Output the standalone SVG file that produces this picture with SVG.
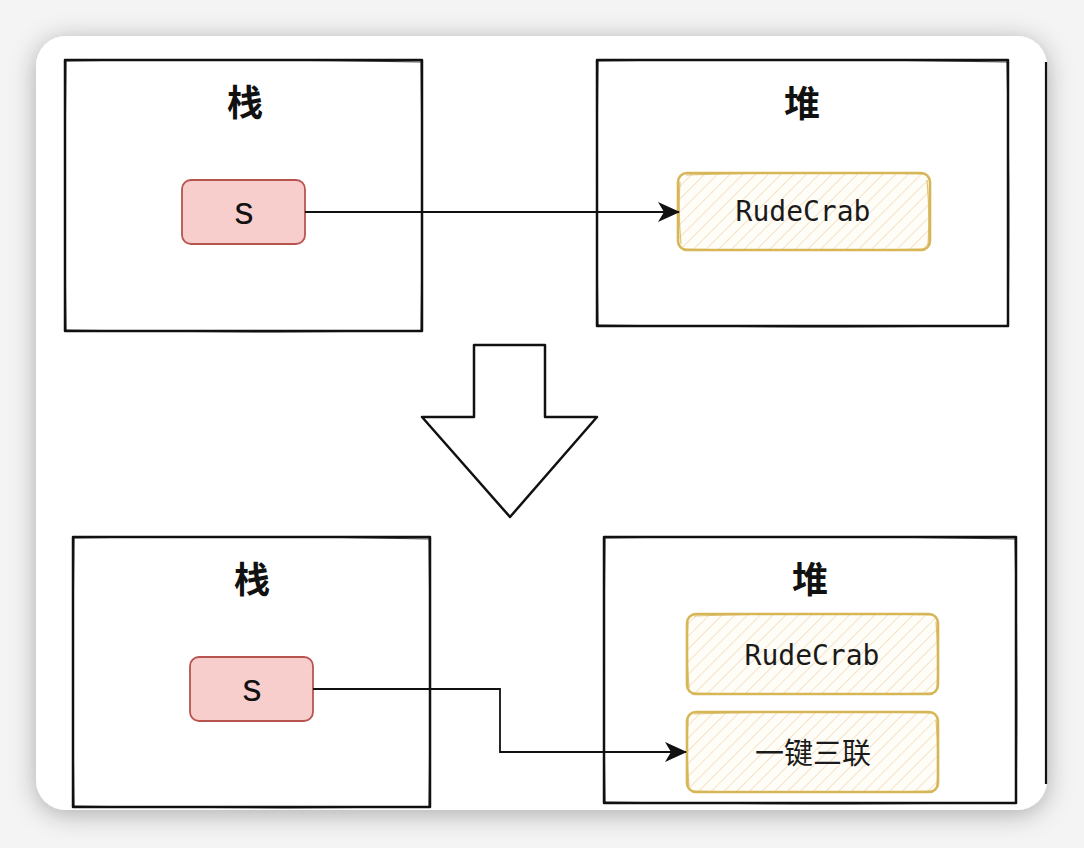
<svg xmlns="http://www.w3.org/2000/svg" width="1084" height="848" viewBox="0 0 1084 848">
<defs>
<style>
.frame{fill:#ffffff;stroke:#111;stroke-width:2.5;stroke-linejoin:round}
.sk{fill:none;stroke:#111;stroke-width:1.2;opacity:.8}
.title{font-family:"Noto Sans CJK SC","Noto Sans",sans-serif;font-weight:700;font-size:36px;fill:#111;text-anchor:middle;dominant-baseline:central}
.var{fill:#f8cecc;stroke:#b85450;stroke-width:1.8}
.vartxt{font-family:"Liberation Sans",Arial,sans-serif;font-size:38px;fill:#111;text-anchor:middle}
.heap{fill:url(#hatch);stroke:#d6b656;stroke-width:2.6}
.heapsk{fill:none;stroke:#d6b656;stroke-width:1.2;opacity:.8}
.mono{font-family:"DejaVu Sans Mono","Liberation Mono",monospace;font-size:28px;fill:#1a1a1a;text-anchor:middle;dominant-baseline:central}
.cjk{font-family:"Noto Sans CJK SC","Noto Sans",sans-serif;font-size:29px;fill:#1a1a1a;text-anchor:middle;dominant-baseline:central}
.edge{fill:none;stroke:#111;stroke-width:1.8}
</style>
<pattern id="hatch" patternUnits="userSpaceOnUse" width="9" height="9" patternTransform="rotate(45)">
<rect width="9" height="9" fill="#fffdf8"/>
<line x1="0" y1="0" x2="0" y2="9" stroke="#f3dcb9" stroke-width="1.6"/>
</pattern>
<marker id="arr" markerWidth="22" markerHeight="20" refX="21" refY="10" orient="auto" markerUnits="userSpaceOnUse">
<path d="M0,0 L22,10 L0,20 L6,10 Z" fill="#111"/>
</marker>
<filter id="shadow" x="-10%" y="-10%" width="120%" height="125%">
<feDropShadow dx="0" dy="4" stdDeviation="13" flood-color="#000" flood-opacity="0.3"/>
</filter>
</defs>
<rect width="1084" height="848" fill="#f4f4f4"/>
<rect x="36" y="36" width="1011" height="774" rx="30" fill="#ffffff" filter="url(#shadow)"/>
<path d="M1046 62 V784" stroke="#111" stroke-width="2.2" fill="none"/>

<g id="stack1">
<rect class="frame" x="65" y="60" width="357" height="271"/>
<path class="sk" d="M66 61 Q240 58 421 62 M421 61 Q423 200 421 330 M64 330 Q240 333 421 331 M66 61 Q64 200 66 330"/>
<text class="title" x="245" y="100">栈</text>
</g>
<g id="s1">
<rect class="var" x="182" y="180" width="123" height="64" rx="9"/>
<text class="vartxt" x="244" y="224">s</text>
</g>
<g id="heap1">
<rect class="frame" x="597" y="60" width="411" height="266"/>
<path class="sk" d="M598 61 Q800 58 1007 62 M1007 61 Q1010 200 1008 325 M596 325 Q800 328 1008 326 M598 61 Q596 200 598 325"/>
<text class="title" x="802" y="101">堆</text>
</g>
<g id="rc1">
<rect class="heap" x="678" y="173" width="252" height="77" rx="9"/>
<path class="heapsk" d="M686 175 Q800 171 925 174 M927 180 Q930 212 928 246 M684 249 Q800 252 924 249 M680 182 Q678 212 681 244"/>
<text class="mono" x="803" y="211">RudeCrab</text>
</g>

<g id="bigArrow">
<polygon class="frame" points="474,345 545,345 545,417 597,417 510,517 422,417 474,417"/>
</g>

<g id="stack2">
<rect class="frame" x="73" y="537" width="357" height="270"/>
<path class="sk" d="M74 538 Q250 535 429 539 M429 538 Q431 670 429 806 M72 806 Q250 809 429 807 M74 538 Q72 670 74 806"/>
<text class="title" x="252" y="577">栈</text>
</g>
<g id="s2">
<rect class="var" x="190" y="657" width="123" height="64" rx="9"/>
<text class="vartxt" x="252" y="701">s</text>
</g>
<g id="heap2">
<rect class="frame" x="604" y="537" width="412" height="266"/>
<path class="sk" d="M605 538 Q810 535 1015 539 M1015 538 Q1018 670 1016 802 M603 802 Q810 805 1016 803 M605 538 Q603 670 605 802"/>
<text class="title" x="810" y="577">堆</text>
</g>
<g id="rc2">
<rect class="heap" x="687" y="614" width="251" height="80" rx="9"/>
<path class="heapsk" d="M694 616 Q810 612 933 615 M936 622 Q939 655 937 690 M692 693 Q810 696 932 693 M688 622 Q686 655 689 688"/>
<text class="mono" x="812" y="655">RudeCrab</text>
</g>
<g id="yjsl">
<rect class="heap" x="687" y="712" width="251" height="80" rx="9"/>
<path class="heapsk" d="M694 714 Q810 710 933 713 M936 720 Q939 752 937 788 M692 791 Q810 794 932 791 M688 720 Q686 752 689 786"/>
<text class="cjk" x="813" y="751">一键三联</text>
</g>

<g id="connectors">
<path class="edge" d="M305 212 H679" marker-end="url(#arr)"/>
<path class="edge" d="M313 689 H500 V752 H686" marker-end="url(#arr)"/>
</g>
</svg>
